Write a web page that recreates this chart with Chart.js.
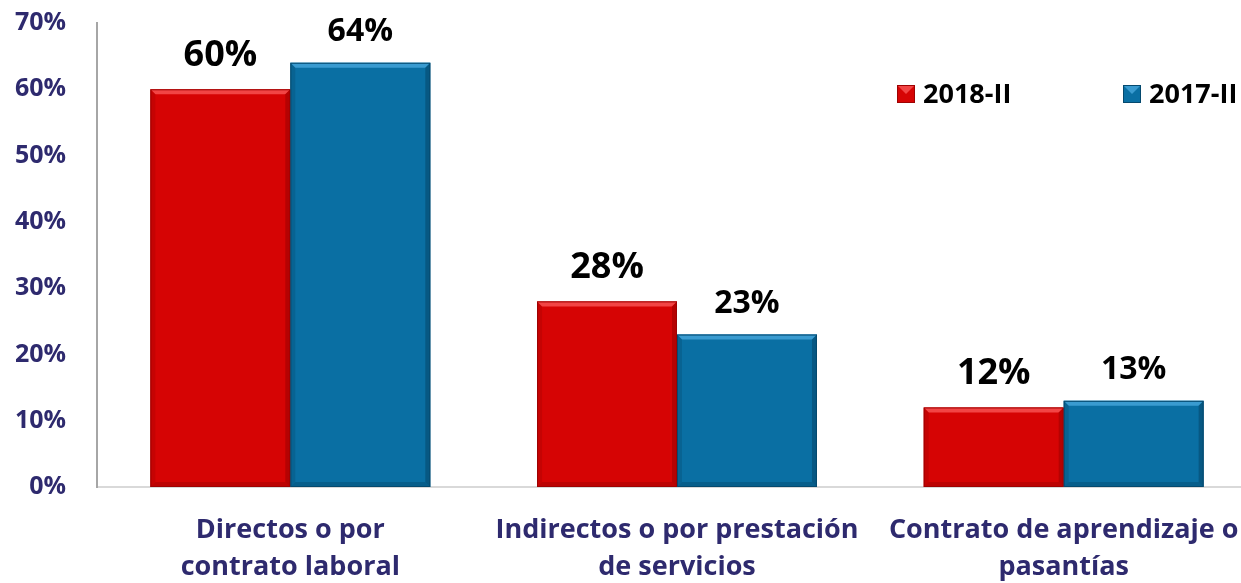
<!DOCTYPE html>
<html>
<head>
<meta charset="utf-8">
<script src="https://cdn.jsdelivr.net/npm/chart.js@4"></script>
<style>
  html, body { margin: 0; padding: 0; background: #fff; overflow: hidden; }
  #frame { width: 1241px; height: 583px; overflow: hidden; position: relative; }
  #wrap { width: 1257px; height: 583px; position: absolute; left: 0; top: 0; }
</style>
</head>
<body>
<div id="frame"><div id="wrap"><canvas id="chart"></canvas></div></div>
<script>
// Chart data
const categories = [
    ['Directos o por', 'contrato laboral'],
    ['Indirectos o por prestación', 'de servicios'],
    ['Contrato de aprendizaje o', 'pasantías']
];
const seriesNames = ['2018-II', '2017-II'];
const values2018 = [60, 28, 12];
const values2017 = [64, 23, 13];
const yTicks = [0, 10, 20, 30, 40, 50, 60, 70];

const navy = '#2E2A6E';
const fontFamily = '"Open Sans", Lato, sans-serif';
const weight = 'bold';

const palette = {
    red:  { fill: '#D60404', light: '#F24545', dark: '#9E0202' },
    blue: { fill: '#0A6FA3', light: '#3A9BD0', dark: '#05496E' }
};

// Draws a bevelled look on each bar
const bevelPlugin = {
    id: 'bevel',
    afterDatasetsDraw(chart) {
        const ctx = chart.ctx;
        chart.data.datasets.forEach((ds, i) => {
            const pal = ds.palette;
            chart.getDatasetMeta(i).data.forEach(bar => {
                const left = bar.x - bar.width / 2;
                const right = bar.x + bar.width / 2;
                const top = bar.y;
                const bottom = bar.base;
                const b = 5;
                ctx.save();
                // top
                ctx.fillStyle = pal.light;
                ctx.beginPath();
                ctx.moveTo(left, top); ctx.lineTo(right, top);
                ctx.lineTo(right - b, top + b); ctx.lineTo(left + b, top + b);
                ctx.closePath(); ctx.fill();
                // right
                ctx.fillStyle = pal.dark;
                ctx.globalAlpha = 0.6;
                ctx.beginPath();
                ctx.moveTo(right, top); ctx.lineTo(right, bottom);
                ctx.lineTo(right - b, bottom - b); ctx.lineTo(right - b, top + b);
                ctx.closePath(); ctx.fill();
                // bottom
                ctx.globalAlpha = 0.45;
                ctx.beginPath();
                ctx.moveTo(left, bottom); ctx.lineTo(right, bottom);
                ctx.lineTo(right - b, bottom - b); ctx.lineTo(left + b, bottom - b);
                ctx.closePath(); ctx.fill();
                // left
                ctx.globalAlpha = 0.3;
                ctx.beginPath();
                ctx.moveTo(left, top); ctx.lineTo(left + b, top + b);
                ctx.lineTo(left + b, bottom - b); ctx.lineTo(left, bottom);
                ctx.closePath(); ctx.fill();
                ctx.globalAlpha = 1;
                ctx.strokeStyle = pal.dark;
                ctx.lineWidth = 1;
                ctx.strokeRect(left + 0.5, top + 0.5, bar.width - 1, bottom - top - 1);
                ctx.restore();
            });
        });
    }
};

// Value labels above bars
const valueLabels = {
    id: 'valueLabels',
    afterDatasetsDraw(chart) {
        const ctx = chart.ctx;
        chart.data.datasets.forEach((ds, i) => {
            chart.getDatasetMeta(i).data.forEach((bar, j) => {
                ctx.save();
                ctx.font = weight + ' ' + ds.labelSize + 'px ' + fontFamily;
                ctx.fillStyle = '#000';
                ctx.textAlign = 'center';
                ctx.textBaseline = 'alphabetic';
                ctx.fillText(ds.data[j] + '%', bar.x, bar.y - ds.labelGap);
                ctx.restore();
            });
        });
    }
};

// Legend in the top right corner of the plot
const cornerLegend = {
    id: 'cornerLegend',
    afterDraw(chart) {
        const ctx = chart.ctx;
        const spots = [897, 1123];
        chart.data.datasets.forEach((ds, i) => {
            const x = spots[i];
            const y = 85;
            const pal = ds.palette;
            ctx.save();
            ctx.fillStyle = pal.fill;
            ctx.fillRect(x, y, 18, 18);
            ctx.fillStyle = pal.light;
            ctx.beginPath();
            ctx.moveTo(x, y); ctx.lineTo(x + 18, y); ctx.lineTo(x + 9, y + 9);
            ctx.closePath(); ctx.fill();
            ctx.strokeStyle = pal.dark;
            ctx.strokeRect(x + 0.5, y + 0.5, 17, 17);
            ctx.font = weight + ' 27px ' + fontFamily;
            ctx.fillStyle = '#000';
            ctx.textBaseline = 'alphabetic';
            ctx.fillText(ds.label, x + 26, y + 18);
            ctx.restore();
        });
    }
};

const ctx = document.getElementById('chart').getContext('2d');
const chart = new Chart(ctx, {
    type: 'bar',
    data: {
        labels: categories,
        datasets: [{
            label: seriesNames[0],
            data: values2018,
            backgroundColor: palette.red.fill,
            palette: palette.red,
            labelSize: 36,
            labelGap: 23
        }, {
            label: seriesNames[1],
            data: values2017,
            backgroundColor: palette.blue.fill,
            palette: palette.blue,
            labelSize: 32,
            labelGap: 22
        }]
    },
    options: {
        responsive: true,
        maintainAspectRatio: false,
        animation: false,
        layout: { padding: { top: 0, left: 0, right: 0, bottom: 0 } },
        datasets: {
            bar: { barPercentage: 1, categoryPercentage: 0.724 }
        },
        plugins: {
            legend: { display: false },
            tooltip: { enabled: false }
        },
        scales: {
            x: {
                grid: { display: false, drawTicks: false },
                border: { color: '#D9D9D9', width: 2 },
                ticks: {
                    color: navy,
                    padding: 25,
                    maxRotation: 0,
                    font: { family: fontFamily, size: 27, weight: weight, lineHeight: 1.36 }
                },
                afterFit(scale) {
                    scale.height = 96;
                    scale.paddingLeft = 0;
                    scale.paddingRight = 0;
                }
            },
            y: {
                min: 0,
                max: 70,
                grid: { display: false, drawTicks: false },
                border: { color: '#A6A6A6', width: 2 },
                afterBuildTicks(scale) {
                    scale.ticks = yTicks.map(v => ({ value: v }));
                },
                ticks: {
                    color: navy,
                    padding: 31,
                    font: { family: fontFamily, size: 25, weight: weight },
                    callback: value => value + '%'
                },
                afterFit(scale) {
                    scale.width = 97;
                    scale.paddingTop = 23;
                }
            }
        }
    },
    plugins: [bevelPlugin, valueLabels, cornerLegend]
});
</script>
</body>
</html>
